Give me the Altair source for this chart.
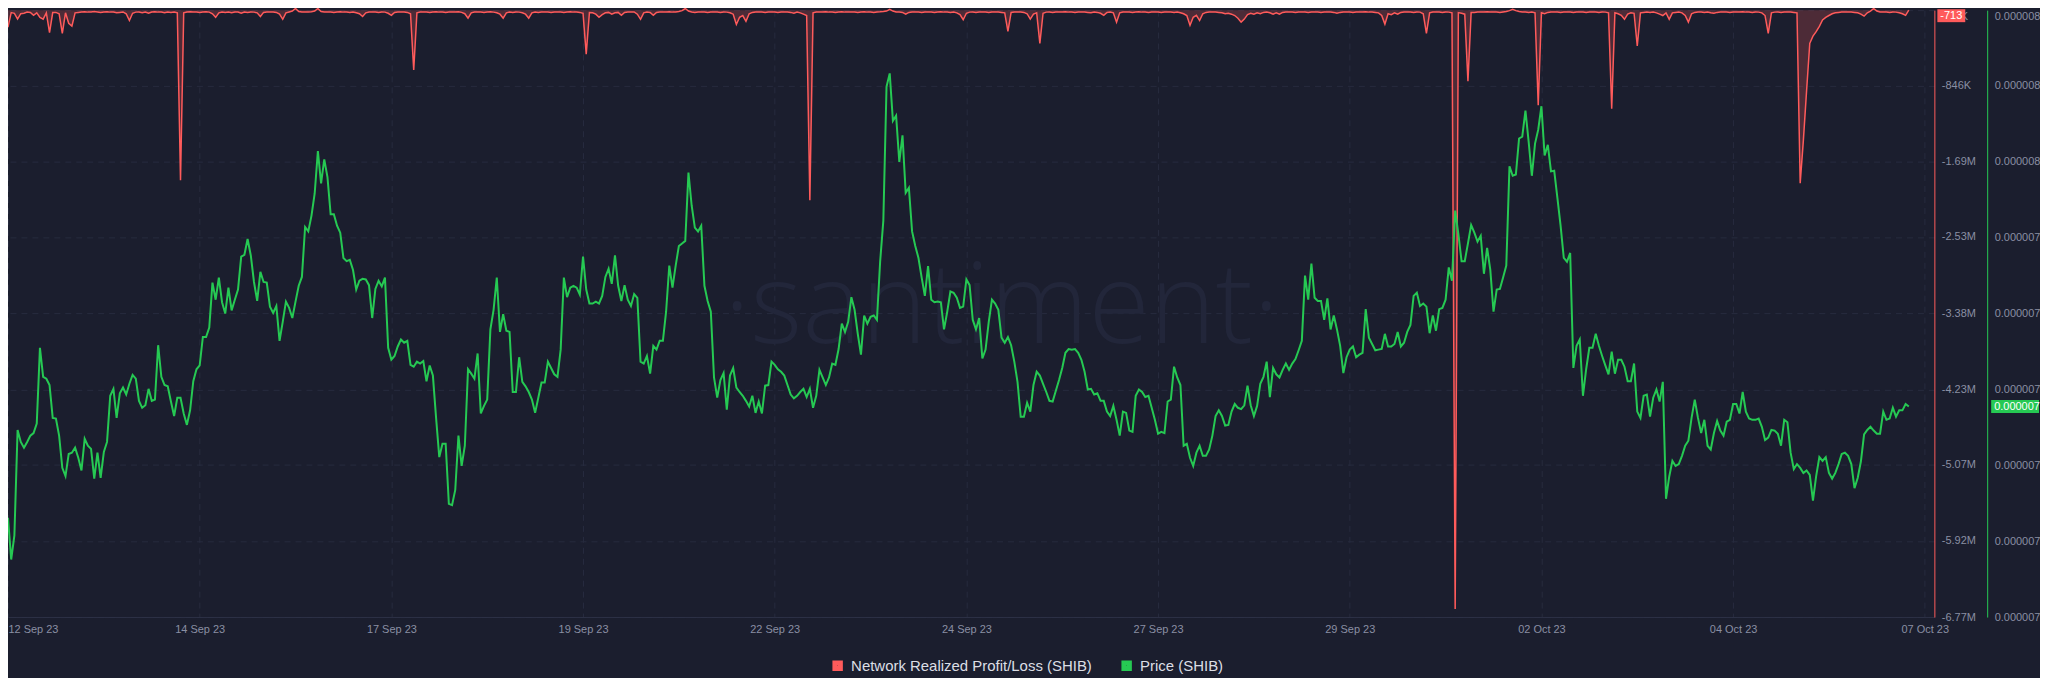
import altair as alt
import pandas as pd

START = "2023-09-12 00:00:00"
RED_NAME = "Network Realized Profit/Loss (SHIB)"
GREEN_NAME = "Price (SHIB)"

# Network realized profit/loss, hourly, in thousands (K)
pnl_k = [
    -190, -27, -35, -100, -40, -35, -22, -25, -58, -30, -80, -100, -30, -250, -27, -25, -40, -258, -30, -147, -178, -30, -25, -20,
    -18, -22, -20, -15, -20, -25, -20, -18, -22, -20, -30, -25, -20, -40, -116, -35, -22, -20, -28, -20, -35, -20, -18, -22,
    -20, -30, -20, -25, -20, -30, -1897, -30, -20, -18, -20, -22, -25, -20, -18, -22, -40, -80, -30, -20, -25, -20, -30, -20,
    -20, -35, -20, -25, -20, -22, -30, -71, -25, -20, -22, -20, -25, -45, -102, -30, -20, -10, 18, -15, -20, -22, -20, -18,
    -10, 18, -15, -20, -22, -20, -25, -20, -18, -22, -20, -25, -20, -30, -40, -71, -30, -20, -22, -20, -25, -20, -22, -35,
    -58, -25, -20, -22, -20, -25, -40, -668, -30, -20, -22, -20, -25, -20, -18, -22, -20, -25, -20, -22, -20, -18, -25, -40,
    -89, -30, -20, -22, -20, -25, -20, -18, -22, -30, -45, -89, -30, -20, -25, -20, -22, -30, -45, -89, -30, -20, -25, -20,
    -22, -20, -25, -20, -22, -20, -25, -20, -18, -22, -20, -25, -35, -490, -27, -30, -45, -80, -50, -30, -25, -45, -30, -25,
    -58, -25, -20, -22, -20, -45, -102, -30, -20, -25, -58, -25, -20, -22, -20, -18, -22, -20, -15, -5, 18, -10, -20, -25,
    -20, -22, -20, -25, -20, -22, -20, -25, -20, -22, -30, -45, -160, -80, -60, -125, -40, -25, -20, -22, -20, -25, -20, -22,
    -20, -25, -20, -22, -20, -25, -35, -20, -30, -45, -60, -2120, -30, -20, -22, -20, -18, -22, -20, -25, -20, -18, -22, -20,
    -22, -20, -25, -20, -18, -22, -20, -25, -20, -18, -15, -10, 9, -10, -20, -22, -25, -45, -25, -20, -22, -20, -25, -20,
    -22, -20, -25, -20, -18, -22, -20, -25, -20, -30, -50, -107, -35, -22, -20, -25, -20, -22, -20, -25, -20, -22, -20, -25,
    -30, -236, -25, -20, -22, -20, -25, -40, -100, -45, -30, -370, -35, -22, -20, -25, -20, -22, -20, -18, -22, -20, -25, -20,
    -22, -20, -25, -30, -22, -25, -35, -58, -25, -20, -30, -134, -30, -20, -22, -20, -25, -20, -18, -22, -20, -25, -20, -22,
    -20, -25, -20, -22, -20, -25, -20, -30, -40, -60, -170, -80, -58, -116, -40, -25, -20, -22, -20, -25, -30, -40, -35, -45,
    -60, -90, -134, -100, -50, -35, -45, -30, -40, -25, -22, -30, -45, -30, -45, -25, -20, -22, -20, -25, -20, -22, -20, -25,
    -20, -22, -20, -25, -20, -22, -20, -25, -35, -25, -20, -22, -20, -25, -20, -22, -20, -18, -22, -20, -25, -30, -60, -156,
    -40, -50, -30, -45, -25, -20, -22, -20, -25, -20, -22, -40, -258, -30, -20, -22, -20, -25, -20, -22, -30, -6680, -27, -35,
    -45, -793, -27, -25, -20, -22, -20, -18, -20, -22, -20, -25, -20, -15, -5, 9, -5, -15, -20, -22, -25, -20, -30, -1060,
    -30, -40, -25, -20, -22, -20, -25, -20, -22, -20, -25, -20, -22, -20, -25, -20, -22, -20, -25, -20, -22, -30, -1100, -30,
    -40, -58, -102, -45, -30, -35, -400, -30, -25, -22, -25, -20, -30, -45, -60, -30, -102, -30, -25, -22, -30, -60, -134, -40,
    -25, -20, -22, -25, -20, -30, -35, -25, -20, -22, -20, -25, -20, -22, -20, -18, -22, -20, -25, -20, -22, -30, -60, -258,
    -30, -22, -20, -25, -20, -22, -20, -25, -30, -1930, -1450, -900, -370, -290, -240, -180, -110, -80, -60, -40, -30, -25, -22, -20,
    -20, -22, -25, -30, -45, -67, -30, -10, 18, -10, -20, -22, -20, -25, -20, -22, -30, -40, -58, -0.713,
]

# SHIB price, hourly, in units of 1e-9 USD
price_nano = [
    6977, 6911, 6949, 7116, 7097, 7088, 7097, 7107, 7111, 7126, 7246, 7200, 7197, 7187, 7135, 7134, 7107, 7056, 7043, 7078, 7080, 7088, 7072, 7052,
    7102, 7091, 7086, 7039, 7080, 7040, 7081, 7097, 7170, 7181, 7135, 7174, 7183, 7172, 7189, 7203, 7197, 7162, 7151, 7155, 7181, 7162, 7164, 7250,
    7200, 7187, 7185, 7161, 7138, 7167, 7167, 7142, 7124, 7147, 7193, 7212, 7218, 7263, 7263, 7278, 7349, 7322, 7357, 7318, 7300, 7341, 7305, 7322,
    7338, 7390, 7393, 7418, 7392, 7350, 7320, 7366, 7350, 7349, 7311, 7301, 7312, 7257, 7287, 7319, 7309, 7293, 7319, 7344, 7358, 7437, 7430, 7455,
    7490, 7557, 7506, 7544, 7516, 7457, 7457, 7439, 7428, 7388, 7383, 7385, 7369, 7338, 7352, 7355, 7354, 7345, 7293, 7339, 7352, 7343, 7357, 7246,
    7227, 7233, 7248, 7259, 7254, 7257, 7219, 7216, 7224, 7221, 7225, 7193, 7218, 7202, 7135, 7073, 7094, 7094, 6999, 6997, 7021, 7107, 7059, 7091,
    7212, 7205, 7197, 7237, 7142, 7154, 7164, 7275, 7306, 7357, 7271, 7299, 7273, 7271, 7176, 7176, 7231, 7192, 7185, 7176, 7164, 7143, 7167, 7191,
    7191, 7224, 7214, 7204, 7200, 7243, 7357, 7326, 7341, 7344, 7341, 7330, 7390, 7338, 7316, 7316, 7319, 7316, 7328, 7358, 7371, 7347, 7392, 7344,
    7320, 7345, 7322, 7312, 7331, 7325, 7224, 7221, 7233, 7205, 7249, 7243, 7257, 7257, 7303, 7376, 7341, 7376, 7407, 7411, 7415, 7523, 7471, 7436,
    7430, 7439, 7344, 7320, 7303, 7199, 7167, 7195, 7206, 7148, 7202, 7214, 7183, 7176, 7170, 7162, 7153, 7170, 7143, 7161, 7142, 7186, 7187, 7224,
    7219, 7212, 7208, 7202, 7187, 7172, 7166, 7170, 7176, 7181, 7168, 7181, 7151, 7170, 7211, 7199, 7187, 7199, 7221, 7219, 7244, 7284, 7271, 7287,
    7326, 7306, 7268, 7235, 7297, 7284, 7295, 7297, 7290, 7382, 7447, 7659, 7680, 7605, 7613, 7540, 7582, 7491, 7499, 7430, 7407, 7388, 7357, 7328,
    7375, 7322, 7318, 7319, 7318, 7275, 7303, 7335, 7333, 7325, 7309, 7311, 7354, 7345, 7290, 7275, 7293, 7229, 7243, 7287, 7322, 7316, 7306, 7262,
    7254, 7263, 7250, 7224, 7192, 7137, 7137, 7159, 7145, 7187, 7208, 7202, 7189, 7176, 7162, 7161, 7178, 7195, 7214, 7238, 7244, 7243, 7244, 7238,
    7227, 7208, 7180, 7181, 7172, 7174, 7162, 7162, 7145, 7138, 7154, 7132, 7107, 7145, 7143, 7115, 7113, 7170, 7180, 7176, 7168, 7170, 7151, 7132,
    7110, 7113, 7111, 7161, 7164, 7216, 7199, 7187, 7091, 7094, 7072, 7059, 7080, 7091, 7075, 7075, 7085, 7107, 7138, 7147, 7138, 7123, 7124, 7145,
    7157, 7151, 7149, 7155, 7186, 7155, 7138, 7154, 7189, 7200, 7224, 7168, 7214, 7204, 7199, 7211, 7221, 7211, 7221, 7228, 7242, 7257, 7360, 7322,
    7379, 7325, 7320, 7320, 7290, 7324, 7275, 7297, 7275, 7249, 7206, 7231, 7243, 7248, 7231, 7235, 7238, 7307, 7262, 7252, 7242, 7243, 7244, 7268,
    7248, 7248, 7252, 7271, 7248, 7254, 7271, 7282, 7328, 7333, 7312, 7316, 7311, 7269, 7297, 7273, 7307, 7309, 7322, 7373, 7352, 7463, 7426, 7383,
    7383, 7411, 7440, 7428, 7414, 7423, 7363, 7404, 7369, 7303, 7338, 7339, 7357, 7376, 7533, 7518, 7520, 7577, 7580, 7621, 7572, 7518, 7569, 7591,
    7628, 7550, 7567, 7525, 7526, 7483, 7439, 7388, 7382, 7396, 7214, 7249, 7259, 7170, 7212, 7246, 7246, 7268, 7249, 7233, 7218, 7204, 7240, 7205,
    7227, 7227, 7216, 7193, 7193, 7221, 7145, 7135, 7170, 7172, 7137, 7167, 7180, 7161, 7192, 7007, 7042, 7067, 7059, 7062, 7075, 7091, 7099, 7135,
    7164, 7135, 7111, 7132, 7091, 7085, 7111, 7130, 7115, 7107, 7129, 7132, 7157, 7157, 7142, 7176, 7145, 7134, 7132, 7132, 7134, 7121, 7100, 7104,
    7116, 7115, 7110, 7091, 7132, 7128, 7080, 7054, 7062, 7056, 7048, 7052, 7045, 7004, 7043, 7073, 7067, 7073, 7048, 7039, 7048, 7062, 7078, 7080,
    7075, 7062, 7024, 7040, 7066, 7109, 7116, 7121, 7115, 7110, 7110, 7145, 7132, 7134, 7151, 7137, 7147, 7147, 7157, 7153,
]

red_tick_values = [-1200, -846000, -1690000, -2530000, -3380000, -4230000, -5070000, -5920000, -6770000]
red_tick_labels = ["-1.2K", "-846K", "-1.69M", "-2.53M", "-3.38M", "-4.23M", "-5.07M", "-5.92M", "-6.77M"]
price_tick_values = [7.78e-6, 7.66e-6, 7.54e-6, 7.42e-6, 7.30e-6, 7.18e-6, 7.06e-6, 6.94e-6, 6.82e-6]
date_ticks = [(2023, 9, 12, 0), (2023, 9, 14, 12), (2023, 9, 17, 0), (2023, 9, 19, 12), (2023, 9, 22, 0),
              (2023, 9, 24, 12), (2023, 9, 27, 0), (2023, 9, 29, 12), (2023, 10, 2, 0), (2023, 10, 4, 12),
              (2023, 10, 7, 0)]
x_domain = [(2023, 9, 12, 0), (2023, 10, 7, 3)]
red_domain = [-6770000, 0]
price_domain = [6.82e-6, 7.78e-6]
watermark = ["\u00b7santiment\u00b7"]

# styles
BG = "#1b1e2e"
RED = "#ff5b5b"
GREEN = "#26c953"
GRID = "#272b3e"
LABEL = "#8a8fa3"
LEGEND_TXT = "#dcdee5"
WATER = "#22263a"
FONT = "Liberation Sans"
W, H = 1933, 609

df_red = pd.DataFrame({
    "time": pd.date_range(START, periods=len(pnl_k), freq="h"),
    "pnl": [v * 1000 for v in pnl_k],
    "series": RED_NAME,
})
df_price = pd.DataFrame({
    "time": pd.date_range(START, periods=len(price_nano), freq="h"),
    "price": [v * 1e-9 for v in price_nano],
    "series": GREEN_NAME,
})
last_red = df_red.tail(1).copy()
last_red["label"] = [f"{v:.0f}" for v in last_red["pnl"]]
last_price = df_price.tail(1).copy()
last_price["label"] = [f"{v:.6f}" for v in last_price["price"]]


def dt(t):
    return alt.DateTime(year=t[0], month=t[1], date=t[2], hours=t[3])


x_scale = alt.Scale(domain=[dt(t) for t in x_domain])
red_scale = alt.Scale(domain=red_domain, nice=False, zero=False)
price_scale = alt.Scale(domain=price_domain, nice=False, zero=False)
color_scale = alt.Scale(domain=[RED_NAME, GREEN_NAME], range=[RED, GREEN])

first_tick_align = {"condition": {"test": "datum.index == 0", "value": "left"}, "value": "center"}
top_tick_baseline = {"condition": {"test": "datum.index >= 0.999", "value": "top"}, "value": "middle"}

x_axis = alt.Axis(
    values=[dt(t) for t in date_ticks], format="%d %b %y", title=None,
    grid=True, gridColor=GRID, gridDash=[6, 5], ticks=False, tickSize=0,
    domain=True, domainColor="#2d3146", labelColor=LABEL, labelFontSize=11,
    labelFont=FONT, labelPadding=6, labelFlush=False, labelOverlap=False,
    labelAlign=first_tick_align,
)

label_expr = ("[" + ",".join(f"'{s}'" for s in red_tick_labels) + "][indexof(["
              + ",".join(str(v) for v in red_tick_values) + "], datum.value)]")
red_axis = alt.Axis(
    orient="right", values=red_tick_values, labelExpr=label_expr, title=None,
    grid=True, gridColor=GRID, gridDash=[6, 5], ticks=False, tickSize=0,
    domainColor=RED, labelColor=LABEL, labelFontSize=11, labelFont=FONT,
    labelPadding=7, labelOverlap=False, labelFlush=False, labelBound=False,
    labelBaseline=top_tick_baseline,
)
green_axis = alt.Axis(
    orient="right", offset=53, values=price_tick_values, format=".6f", title=None,
    grid=False, ticks=False, tickSize=0, domainColor=GREEN, labelColor=LABEL,
    labelFontSize=11, labelFont=FONT, labelPadding=7, labelOverlap=False,
    labelFlush=False, labelBound=False, labelBaseline=top_tick_baseline,
)

legend = alt.Legend(
    orient="none", legendX=825, legendY=650, direction="horizontal", title=None,
    symbolType="square", symbolSize=30, symbolStrokeWidth=5,
    labelFontSize=15, labelFont=FONT, labelColor=LEGEND_TXT, labelLimit=500,
    columnPadding=21, labelOffset=6,
)
color_enc = alt.Color("series:N", scale=color_scale, legend=legend)

water = alt.Chart(pd.DataFrame({"t": watermark})).mark_text(
    font="Open Sans", fontSize=112, fontWeight=300, color=WATER,
    align="center", baseline="alphabetic",
).encode(text="t:N", x=alt.value(997), y=alt.value(334))

red_area = alt.Chart(df_red).mark_area(color=RED, opacity=0.22, interpolate="linear").encode(
    x=alt.X("time:T", scale=x_scale, axis=x_axis),
    y=alt.Y("pnl:Q", scale=red_scale, axis=red_axis),
    y2=alt.datum(0),
)
red_line = alt.Chart(df_red).mark_line(strokeWidth=1.5, interpolate="linear").encode(
    x=alt.X("time:T", scale=x_scale, axis=x_axis),
    y=alt.Y("pnl:Q", scale=red_scale, axis=red_axis),
    color=color_enc,
)
red_badge = alt.Chart(last_red).mark_rect(color=RED, yOffset=-1, y2Offset=12).encode(
    x=alt.value(W + 3), x2=alt.value(W + 31),
    y=alt.Y("pnl:Q", scale=red_scale, axis=red_axis), y2=alt.Y2("pnl"),
)
red_badge_text = alt.Chart(last_red).mark_text(
    color="white", fontSize=11, font=FONT, align="center", baseline="middle", dy=5.5,
).encode(
    x=alt.value(W + 17), y=alt.Y("pnl:Q", scale=red_scale, axis=red_axis), text="label:N",
)

green_line = alt.Chart(df_price).mark_line(strokeWidth=2, interpolate="linear").encode(
    x=alt.X("time:T", scale=x_scale, axis=x_axis),
    y=alt.Y("price:Q", scale=price_scale, axis=green_axis),
    color=color_enc,
)
green_badge = alt.Chart(last_price).mark_rect(color=GREEN, yOffset=-6.5, y2Offset=6.5).encode(
    x=alt.value(W + 57), x2=alt.value(W + 105),
    y=alt.Y("price:Q", scale=price_scale, axis=green_axis), y2=alt.Y2("price"),
)
green_badge_text = alt.Chart(last_price).mark_text(
    color="white", fontSize=11, font=FONT, align="left", baseline="middle",
).encode(
    x=alt.value(W + 60), y=alt.Y("price:Q", scale=price_scale, axis=green_axis), text="label:N",
)

red_group = alt.layer(water, red_area, red_line, red_badge, red_badge_text)
green_group = alt.layer(green_line, green_badge, green_badge_text)

chart = alt.layer(red_group, green_group).resolve_scale(y="independent").properties(
    width=W, height=H,
    padding={"left": 0, "top": 1, "right": 106, "bottom": 60},
    autosize=alt.AutoSizeParams(type="none"),
    background=BG,
).configure_view(stroke=None)

chart.save("out.html", embed_options={"renderer": "svg", "actions": False})
